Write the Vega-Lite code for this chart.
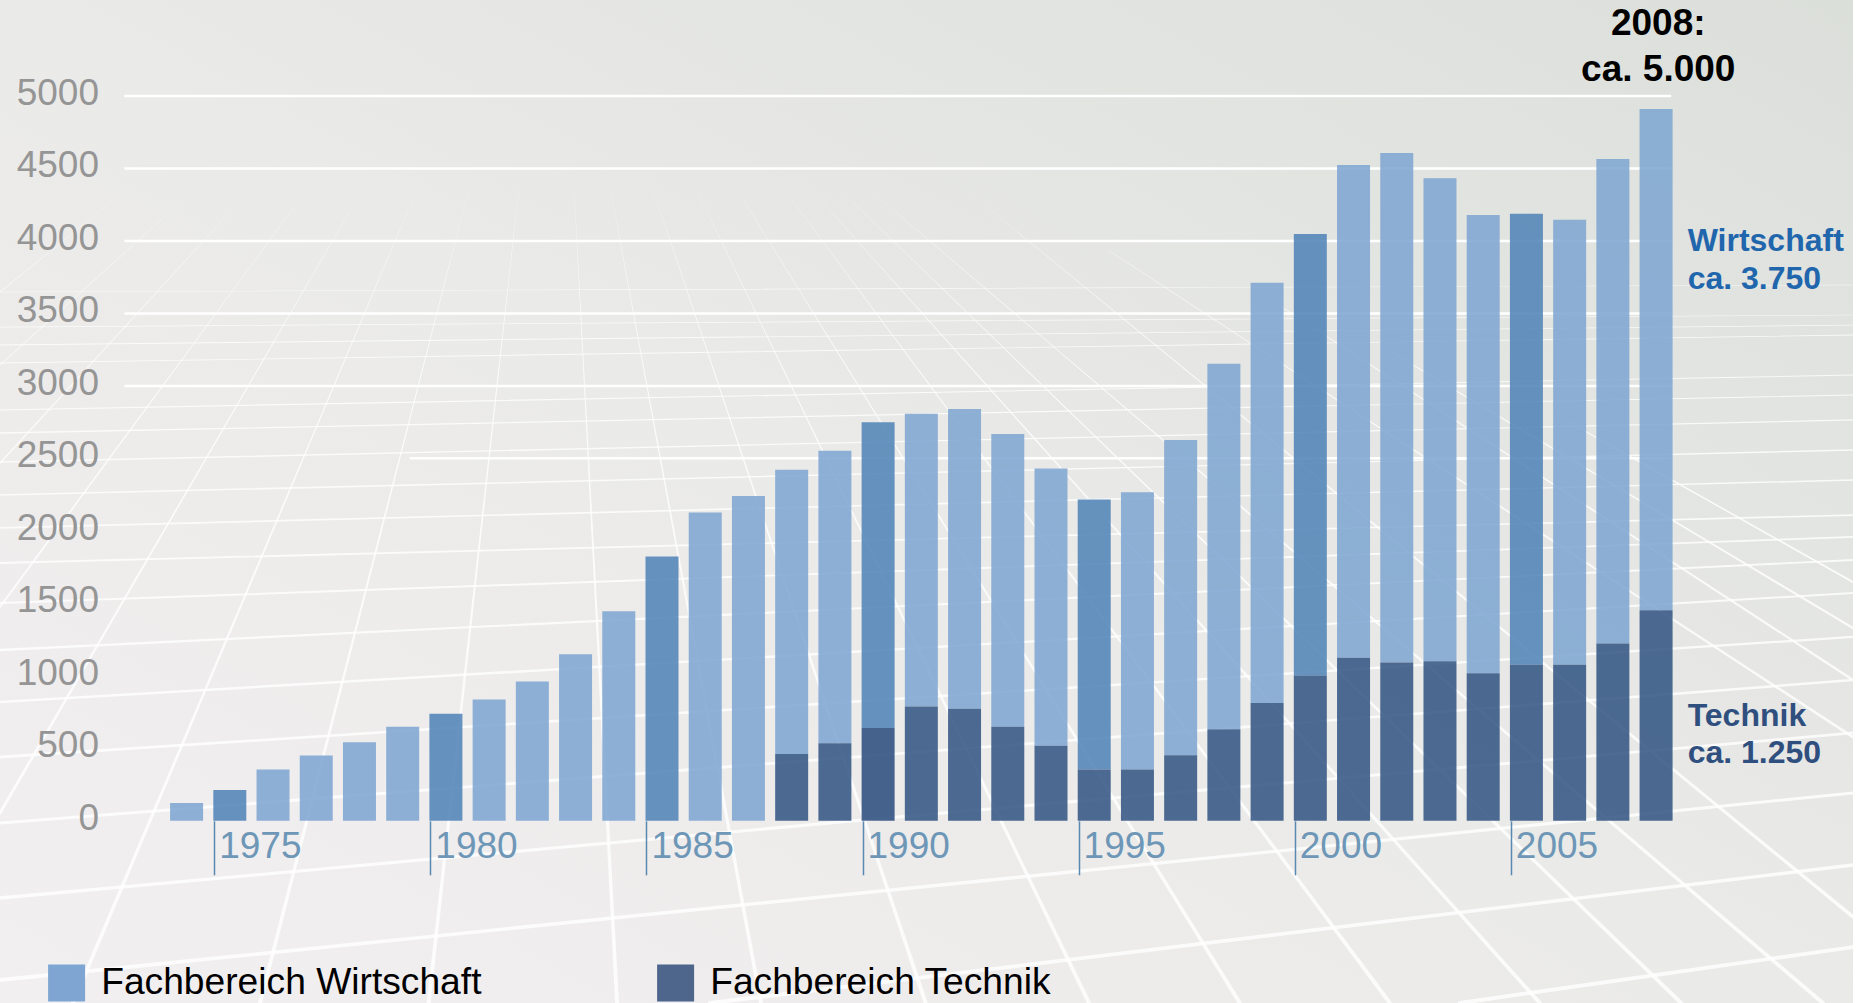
{
"$schema":"https://vega.github.io/schema/vega-lite/v6.json",
"width":1853,"height":1003,"padding":0,"autosize":{"type":"none"},
"background":"#ffffff",
"view":{"stroke":null,"fill":{"gradient":"linear","x1":0,"y1":1,"x2":1,"y2":0,"stops":[{"offset":0,"color":"#F2EFF0"},{"offset":0.5,"color":"#EAEAE8"},{"offset":1,"color":"#DBDFDA"}]}},
"config":{"font":"Liberation Sans","scale":{"continuousPadding":0}},
"datasets":{
"Studierende":[
{"Jahr":1974,"Fachbereich":"Fachbereich Wirtschaft","Anzahl":123},
{"Jahr":1975,"Fachbereich":"Fachbereich Wirtschaft","Anzahl":213},
{"Jahr":1976,"Fachbereich":"Fachbereich Wirtschaft","Anzahl":353},
{"Jahr":1977,"Fachbereich":"Fachbereich Wirtschaft","Anzahl":451},
{"Jahr":1978,"Fachbereich":"Fachbereich Wirtschaft","Anzahl":541},
{"Jahr":1979,"Fachbereich":"Fachbereich Wirtschaft","Anzahl":648},
{"Jahr":1980,"Fachbereich":"Fachbereich Wirtschaft","Anzahl":739},
{"Jahr":1981,"Fachbereich":"Fachbereich Wirtschaft","Anzahl":837},
{"Jahr":1982,"Fachbereich":"Fachbereich Wirtschaft","Anzahl":960},
{"Jahr":1983,"Fachbereich":"Fachbereich Wirtschaft","Anzahl":1149},
{"Jahr":1984,"Fachbereich":"Fachbereich Wirtschaft","Anzahl":1445},
{"Jahr":1985,"Fachbereich":"Fachbereich Wirtschaft","Anzahl":1823},
{"Jahr":1986,"Fachbereich":"Fachbereich Wirtschaft","Anzahl":2126},
{"Jahr":1987,"Fachbereich":"Fachbereich Wirtschaft","Anzahl":2241},
{"Jahr":1988,"Fachbereich":"Fachbereich Wirtschaft","Anzahl":1962},
{"Jahr":1989,"Fachbereich":"Fachbereich Wirtschaft","Anzahl":2019},
{"Jahr":1990,"Fachbereich":"Fachbereich Wirtschaft","Anzahl":2110},
{"Jahr":1991,"Fachbereich":"Fachbereich Wirtschaft","Anzahl":2020},
{"Jahr":1992,"Fachbereich":"Fachbereich Wirtschaft","Anzahl":2069},
{"Jahr":1993,"Fachbereich":"Fachbereich Wirtschaft","Anzahl":2019},
{"Jahr":1994,"Fachbereich":"Fachbereich Wirtschaft","Anzahl":1913},
{"Jahr":1995,"Fachbereich":"Fachbereich Wirtschaft","Anzahl":1864},
{"Jahr":1996,"Fachbereich":"Fachbereich Wirtschaft","Anzahl":1913},
{"Jahr":1997,"Fachbereich":"Fachbereich Wirtschaft","Anzahl":2175},
{"Jahr":1998,"Fachbereich":"Fachbereich Wirtschaft","Anzahl":2521},
{"Jahr":1999,"Fachbereich":"Fachbereich Wirtschaft","Anzahl":2898},
{"Jahr":2000,"Fachbereich":"Fachbereich Wirtschaft","Anzahl":3046},
{"Jahr":2001,"Fachbereich":"Fachbereich Wirtschaft","Anzahl":3399},
{"Jahr":2002,"Fachbereich":"Fachbereich Wirtschaft","Anzahl":3514},
{"Jahr":2003,"Fachbereich":"Fachbereich Wirtschaft","Anzahl":3333},
{"Jahr":2004,"Fachbereich":"Fachbereich Wirtschaft","Anzahl":3161},
{"Jahr":2005,"Fachbereich":"Fachbereich Wirtschaft","Anzahl":3111},
{"Jahr":2006,"Fachbereich":"Fachbereich Wirtschaft","Anzahl":3070},
{"Jahr":2007,"Fachbereich":"Fachbereich Wirtschaft","Anzahl":3342},
{"Jahr":2008,"Fachbereich":"Fachbereich Wirtschaft","Anzahl":3457},
{"Jahr":1988,"Fachbereich":"Fachbereich Technik","Anzahl":460},
{"Jahr":1989,"Fachbereich":"Fachbereich Technik","Anzahl":534},
{"Jahr":1990,"Fachbereich":"Fachbereich Technik","Anzahl":640},
{"Jahr":1991,"Fachbereich":"Fachbereich Technik","Anzahl":788},
{"Jahr":1992,"Fachbereich":"Fachbereich Technik","Anzahl":772},
{"Jahr":1993,"Fachbereich":"Fachbereich Technik","Anzahl":649},
{"Jahr":1994,"Fachbereich":"Fachbereich Technik","Anzahl":517},
{"Jahr":1995,"Fachbereich":"Fachbereich Technik","Anzahl":353},
{"Jahr":1996,"Fachbereich":"Fachbereich Technik","Anzahl":353},
{"Jahr":1997,"Fachbereich":"Fachbereich Technik","Anzahl":452},
{"Jahr":1998,"Fachbereich":"Fachbereich Technik","Anzahl":632},
{"Jahr":1999,"Fachbereich":"Fachbereich Technik","Anzahl":813},
{"Jahr":2000,"Fachbereich":"Fachbereich Technik","Anzahl":1002},
{"Jahr":2001,"Fachbereich":"Fachbereich Technik","Anzahl":1125},
{"Jahr":2002,"Fachbereich":"Fachbereich Technik","Anzahl":1092},
{"Jahr":2003,"Fachbereich":"Fachbereich Technik","Anzahl":1100},
{"Jahr":2004,"Fachbereich":"Fachbereich Technik","Anzahl":1018},
{"Jahr":2005,"Fachbereich":"Fachbereich Technik","Anzahl":1076},
{"Jahr":2006,"Fachbereich":"Fachbereich Technik","Anzahl":1076},
{"Jahr":2007,"Fachbereich":"Fachbereich Technik","Anzahl":1223},
{"Jahr":2008,"Fachbereich":"Fachbereich Technik","Anzahl":1453}
],
"Gitter":[
{"Wert":5000,"von":1972.56,"bis":2008.35},
{"Wert":4500,"von":1972.56,"bis":2008.35},
{"Wert":4000,"von":1972.56,"bis":2008.35},
{"Wert":3500,"von":1972.56,"bis":2008.35},
{"Wert":3000,"von":1972.56,"bis":2008.35},
{"Wert":2500,"von":1979.16,"bis":2008.35}
],
"Raster":[
{"Linie":"H1","Jahr":2003.46,"Wert":-1257},{"Linie":"H1","Jahr":2012.556,"Wert":-871},
{"Linie":"H2","Jahr":1986.11,"Wert":-1257},{"Linie":"H2","Jahr":2012.556,"Wert":-305},
{"Linie":"H3","Jahr":1969.683,"Wert":-1098},{"Linie":"H3","Jahr":2012.556,"Wert":192},
{"Linie":"H4","Jahr":1969.683,"Wert":-533},{"Linie":"H4","Jahr":1989.65,"Wert":5},{"Linie":"H4","Jahr":2012.556,"Wert":606},
{"Linie":"H5","Jahr":1969.683,"Wert":-15},{"Linie":"H5","Jahr":2012.556,"Wert":971},
{"Linie":"H6","Jahr":1969.683,"Wert":440},{"Linie":"H6","Jahr":2012.556,"Wert":1268},
{"Linie":"H7","Jahr":1969.683,"Wert":819},{"Linie":"H7","Jahr":2012.556,"Wert":1571},
{"Linie":"H8","Jahr":1969.683,"Wert":1178},{"Linie":"H8","Jahr":2012.556,"Wert":1799},
{"Linie":"H9","Jahr":1969.683,"Wert":1502},{"Linie":"H9","Jahr":2012.556,"Wert":1958},
{"Linie":"H10","Jahr":1969.683,"Wert":1778},{"Linie":"H10","Jahr":2012.556,"Wert":2109},
{"Linie":"H11","Jahr":1969.683,"Wert":2020},{"Linie":"H11","Jahr":2012.556,"Wert":2351},
{"Linie":"H12","Jahr":1969.683,"Wert":2247},{"Linie":"H12","Jahr":2012.556,"Wert":2558},
{"Linie":"H13","Jahr":1969.683,"Wert":2475},{"Linie":"H13","Jahr":2012.556,"Wert":2765},
{"Linie":"H14","Jahr":1969.683,"Wert":2675},{"Linie":"H14","Jahr":2012.556,"Wert":2937},
{"Linie":"H15","Jahr":1969.683,"Wert":2834},{"Linie":"H15","Jahr":2012.556,"Wert":3075},
{"Linie":"H16","Jahr":1969.683,"Wert":3158},{"Linie":"H16","Jahr":2012.556,"Wert":3351},
{"Linie":"H17","Jahr":1969.683,"Wert":3282},{"Linie":"H17","Jahr":2012.556,"Wert":3420},
{"Linie":"H18","Jahr":1969.683,"Wert":3406},{"Linie":"H18","Jahr":2012.556,"Wert":3489},
{"Linie":"H19","Jahr":1969.683,"Wert":3648},{"Linie":"H19","Jahr":2012.556,"Wert":3696},
{"Linie":"R1","Jahr":1969.683,"Wert":3648},{"Linie":"R1","Jahr":1972.78,"Wert":4395},
{"Linie":"R2","Jahr":1969.683,"Wert":3144},{"Linie":"R2","Jahr":1974.1,"Wert":4331},
{"Linie":"R3","Jahr":1969.683,"Wert":2468},{"Linie":"R3","Jahr":1975.26,"Wert":4282},
{"Linie":"R4","Jahr":1969.683,"Wert":1475},{"Linie":"R4","Jahr":1976.95,"Wert":4420},
{"Linie":"R5","Jahr":1969.683,"Wert":54},{"Linie":"R5","Jahr":1978.1,"Wert":4372},
{"Linie":"R6","Jahr":1971.37,"Wert":-1257},{"Linie":"R6","Jahr":1979.42,"Wert":4420},
{"Linie":"R7","Jahr":1975.7,"Wert":-1257},{"Linie":"R7","Jahr":1980.58,"Wert":4420},
{"Linie":"R8","Jahr":1979.6,"Wert":-1257},{"Linie":"R8","Jahr":1981.71,"Wert":4420},
{"Linie":"R9","Jahr":1983.96,"Wert":-1257},{"Linie":"R9","Jahr":1982.96,"Wert":4398},
{"Linie":"R10","Jahr":1987.29,"Wert":-1257},{"Linie":"R10","Jahr":1983.77,"Wert":4420},
{"Linie":"R11","Jahr":1991.1,"Wert":-1257},{"Linie":"R11","Jahr":1984.72,"Wert":4420},
{"Linie":"R12","Jahr":1994.88,"Wert":-1257},{"Linie":"R12","Jahr":1985.69,"Wert":4420},
{"Linie":"R13","Jahr":1998.37,"Wert":-1257},{"Linie":"R13","Jahr":1986.6,"Wert":4420},
{"Linie":"R14","Jahr":2001.84,"Wert":-1257},{"Linie":"R14","Jahr":1987.66,"Wert":4420},
{"Linie":"R15","Jahr":2005.31,"Wert":-1257},{"Linie":"R15","Jahr":1988.26,"Wert":4420},
{"Linie":"R16","Jahr":2008.58,"Wert":-1257},{"Linie":"R16","Jahr":1988.89,"Wert":4420},
{"Linie":"R17","Jahr":2011.86,"Wert":-1257},{"Linie":"R17","Jahr":1989.54,"Wert":4420},
{"Linie":"R18","Jahr":1991.76,"Wert":4420},{"Linie":"R18","Jahr":2012.556,"Wert":-663},
{"Linie":"R19","Jahr":1995.32,"Wert":3937},{"Linie":"R19","Jahr":2012.556,"Wert":577},
{"Linie":"R20","Jahr":1999.1,"Wert":3591},{"Linie":"R20","Jahr":2012.556,"Wert":971},
{"Linie":"R21","Jahr":2001.8,"Wert":3247},{"Linie":"R21","Jahr":2012.556,"Wert":1329},
{"Linie":"R22","Jahr":2005.9,"Wert":2765},{"Linie":"R22","Jahr":2012.556,"Wert":1647}
]
},
"layer":[
{"data":{"name":"Raster"},
 "mark":{"type":"trail","color":"#ffffff","opacity":0.8},
 "encoding":{
  "x":{"field":"Jahr","type":"quantitative","scale":{"domain":[1969.683,2012.556],"nice":false,"zero":false,"padding":0},
   "axis":{"orient":"bottom","offset":-182.2,"values":[1975,1980,1985,1990,1995,2000,2005],"format":"d","title":null,"domain":false,"grid":false,"tickSize":54,"tickColor":"#5B88B0","tickWidth":1.5,"tickOffset":-15.6,"labelAlign":"left","labelBaseline":"alphabetic","labelPadding":-17,"labelOffset":4.5,"labelFontSize":37,"labelColor":"#6E97B7","labelFont":"Liberation Sans","zindex":1}},
  "y":{"field":"Wert","type":"quantitative","scale":{"domain":[-1257,5662],"nice":false,"zero":false},
   "axis":{"orient":"left","offset":-98.5,"values":[0,500,1000,1500,2000,2500,3000,3500,4000,4500,5000],"format":"d","title":null,"domain":false,"ticks":false,"grid":false,"labelPadding":0,"labelFontSize":37,"labelColor":"#959595","labelOffset":-2.5,"labelFont":"Liberation Sans","zindex":1}},
  "detail":{"field":"Linie"},
  "size":{"field":"Wert","type":"quantitative","scale":{"domain":[-1257,4500],"range":[4,0],"zero":false,"clamp":true},"legend":null}
 }},
{"data":{"name":"Gitter"},
 "mark":{"type":"rule","color":"#ffffff","strokeWidth":2.5},
 "encoding":{
  "x":{"field":"von","type":"quantitative"},
  "x2":{"field":"bis"},
  "y":{"field":"Wert","type":"quantitative"}
 }},
{"data":{"name":"Studierende"},
 "mark":{"type":"bar","width":33,"opacity":0.88},
 "encoding":{
  "x":{"field":"Jahr","type":"quantitative"},
  "y":{"field":"Anzahl","type":"quantitative","stack":"zero"},
  "order":{"field":"Fachbereich","sort":"ascending"},
  "color":{
   "condition":[
    {"test":"datum.Fachbereich=='Fachbereich Wirtschaft' && datum.Jahr%5==0","value":"#5284B7"},
    {"test":"datum.Fachbereich=='Fachbereich Technik' && datum.Jahr==1990","value":"#2C4F7E"},
    {"test":"datum.Fachbereich=='Fachbereich Technik'","value":"#345684"}
   ],
   "field":"Fachbereich","type":"nominal",
   "scale":{"domain":["Fachbereich Wirtschaft","Fachbereich Technik"],"range":["#7FA6D2","#4E658C"]},
   "legend":{"orient":"none","legendX":48,"legendY":964,"direction":"horizontal","columns":2,"title":null,"symbolType":"square","symbolSize":1369,"symbolStrokeWidth":0,"symbolOpacity":1,"labelFontSize":37.2,"labelColor":"#000000","labelOffset":16,"labelLimit":600,"columnPadding":175,"labelFont":"Liberation Sans"}
  }
 }},
{"data":{"values":[{"Jahr":2008.05,"Wert":5421,"Text":"2008:"},{"Jahr":2008.05,"Wert":5103,"Text":"ca. 5.000"}]},
 "mark":{"type":"text","font":"Liberation Sans","fontWeight":"bold","fontSize":37,"align":"center","baseline":"alphabetic","color":"#000000"},
 "encoding":{"x":{"field":"Jahr","type":"quantitative"},"y":{"field":"Wert","type":"quantitative"},"text":{"field":"Text"}}},
{"data":{"values":[{"Jahr":2008.73,"Wert":3933,"Text":"Wirtschaft"},{"Jahr":2008.73,"Wert":3670,"Text":"ca. 3.750"}]},
 "mark":{"type":"text","font":"Liberation Sans","fontWeight":"bold","fontSize":32,"align":"left","baseline":"alphabetic","color":"#1F66AD"},
 "encoding":{"x":{"field":"Jahr","type":"quantitative"},"y":{"field":"Wert","type":"quantitative"},"text":{"field":"Text"}}},
{"data":{"values":[{"Jahr":2008.73,"Wert":656,"Text":"Technik"},{"Jahr":2008.73,"Wert":401,"Text":"ca. 1.250"}]},
 "mark":{"type":"text","font":"Liberation Sans","fontWeight":"bold","fontSize":32,"align":"left","baseline":"alphabetic","color":"#2F4F7F"},
 "encoding":{"x":{"field":"Jahr","type":"quantitative"},"y":{"field":"Wert","type":"quantitative"},"text":{"field":"Text"}}}
]
}
